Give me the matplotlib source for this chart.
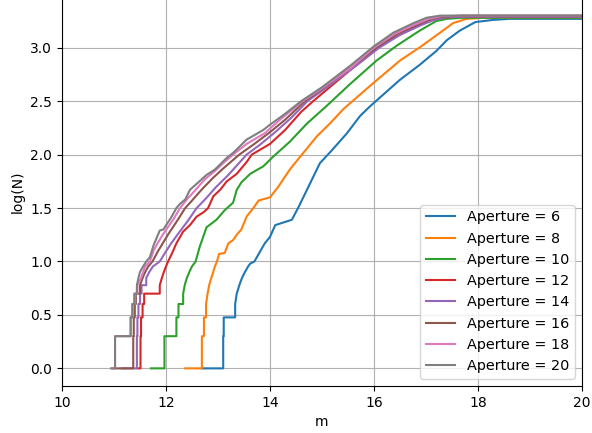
import matplotlib
matplotlib.use("Agg")
import matplotlib.pyplot as plt

# Kumulative Zaehlkurven log(N) gegen Magnitude m, je Apertur
apertures = [6, 8, 10, 12, 14, 16, 18, 20]

m_ap6 = [12.69, 13.10, 13.10, 13.11, 13.11, 13.33, 13.33, 13.36, 13.41, 13.46,
         13.52, 13.58, 13.62, 13.70, 13.77, 13.90, 14.00, 14.10, 14.42, 14.55,
         14.77, 14.96, 15.19, 15.48, 15.73, 15.92, 16.50, 16.88, 17.20, 17.40,
         17.65, 17.95, 18.29, 18.60, 20.0]
logn_ap6 = [0, 0, 0.301, 0.301, 0.477, 0.477, 0.602, 0.699, 0.778, 0.845,
            0.903, 0.954, 0.98, 1.0, 1.06, 1.17, 1.23, 1.34, 1.39, 1.51,
            1.73, 1.92, 2.04, 2.20, 2.36, 2.45, 2.70, 2.84, 2.97, 3.07,
            3.16, 3.24, 3.26, 3.27, 3.27]

m_ap8 = [12.37, 12.69, 12.69, 12.73, 12.73, 12.77, 12.77, 12.80, 12.83, 12.87,
         12.91, 12.94, 12.98, 13.02, 13.13, 13.20, 13.29, 13.36, 13.45, 13.55,
         13.68, 13.78, 14.00, 14.16, 14.38, 14.58, 14.90, 15.15, 15.42, 15.99,
         16.50, 16.90, 17.27, 17.52, 17.78, 18.10, 20.0]
logn_ap8 = [0, 0, 0.301, 0.301, 0.477, 0.477, 0.602, 0.699, 0.778, 0.845,
            0.903, 0.954, 1.0, 1.07, 1.08, 1.17, 1.20, 1.25, 1.30, 1.42,
            1.50, 1.57, 1.60, 1.70, 1.86, 1.98, 2.17, 2.29, 2.43, 2.67,
            2.88, 3.01, 3.14, 3.23, 3.27, 3.28, 3.28]

m_ap10 = [11.71, 11.97, 11.97, 12.20, 12.20, 12.24, 12.24, 12.33, 12.33, 12.36,
          12.40, 12.45, 12.50, 12.57, 12.65, 12.78, 12.97, 13.13, 13.29, 13.36,
          13.45, 13.62, 13.87, 14.06, 14.38, 14.71, 15.10, 15.54, 16.05, 16.44,
          16.88, 17.20, 17.40, 17.70, 20.0]
logn_ap10 = [0, 0, 0.301, 0.301, 0.477, 0.477, 0.602, 0.602, 0.699, 0.778,
             0.845, 0.903, 0.954, 1.0, 1.14, 1.32, 1.39, 1.48, 1.55, 1.67,
             1.74, 1.82, 1.89, 1.98, 2.12, 2.29, 2.46, 2.66, 2.88, 3.02,
             3.16, 3.25, 3.27, 3.28, 3.28]

m_ap12 = [11.45, 11.51, 11.51, 11.52, 11.52, 11.55, 11.55, 11.58, 11.58, 11.88,
          11.88, 11.92, 11.96, 12.00, 12.04, 12.11, 12.20, 12.33, 12.46, 12.59,
          12.72, 12.81, 12.91, 13.04, 13.17, 13.36, 13.55, 13.65, 14.00, 14.29,
          14.60, 14.83, 15.54, 16.18, 16.69, 17.01, 17.27, 17.60, 20.0]
logn_ap12 = [0, 0, 0.301, 0.301, 0.477, 0.477, 0.602, 0.602, 0.699, 0.699,
             0.778, 0.845, 0.903, 0.954, 1.0, 1.07, 1.17, 1.28, 1.34, 1.42,
             1.46, 1.50, 1.61, 1.67, 1.75, 1.82, 1.93, 2.0, 2.10, 2.23,
             2.40, 2.50, 2.79, 3.04, 3.17, 3.24, 3.28, 3.29, 3.29]

m_ap14 = [11.15, 11.44, 11.44, 11.45, 11.45, 11.47, 11.47, 11.50, 11.50, 11.53,
          11.53, 11.62, 11.62, 11.68, 11.75, 11.88, 11.98, 12.10, 12.25, 12.42,
          12.59, 12.75, 12.95, 13.20, 13.55, 13.80, 14.10, 14.40, 14.72, 15.15,
          15.65, 16.10, 16.50, 16.90, 17.15, 17.40, 17.70, 20.0]
logn_ap14 = [0, 0, 0.301, 0.301, 0.477, 0.477, 0.602, 0.602, 0.699, 0.699,
             0.778, 0.778, 0.845, 0.903, 0.954, 1.0, 1.08, 1.17, 1.27, 1.38,
             1.50, 1.58, 1.69, 1.81, 2.0, 2.09, 2.21, 2.34, 2.50, 2.65,
             2.83, 3.0, 3.12, 3.21, 3.26, 3.285, 3.29, 3.29]

m_ap16 = [11.00, 11.37, 11.37, 11.38, 11.38, 11.40, 11.40, 11.42, 11.42, 11.50,
          11.50, 11.55, 11.60, 11.66, 11.74, 11.85, 11.95, 12.05, 12.20, 12.37,
          12.50, 12.70, 12.90, 13.10, 13.41, 13.70, 14.00, 14.30, 14.67, 15.10,
          15.60, 16.04, 16.45, 16.85, 17.10, 17.35, 17.70, 20.0]
logn_ap16 = [0, 0, 0.301, 0.301, 0.477, 0.477, 0.602, 0.602, 0.699, 0.699,
             0.778, 0.845, 0.903, 0.954, 1.0, 1.10, 1.18, 1.26, 1.37, 1.50,
             1.57, 1.68, 1.78, 1.87, 2.0, 2.10, 2.21, 2.33, 2.50, 2.65,
             2.83, 3.0, 3.13, 3.22, 3.27, 3.29, 3.30, 3.30]

m_ap18 = [10.95, 11.02, 11.02, 11.32, 11.32, 11.36, 11.36, 11.40, 11.40, 11.45,
          11.45, 11.52, 11.56, 11.60, 11.69, 11.76, 11.85, 11.95, 12.05, 12.15,
          12.27, 12.40, 12.55, 12.75, 12.95, 13.10, 13.29, 13.55, 13.90, 14.20,
          14.63, 15.00, 15.55, 16.00, 16.40, 16.80, 17.05, 17.30, 17.60, 20.0]
logn_ap18 = [0, 0, 0.301, 0.301, 0.477, 0.477, 0.602, 0.602, 0.699, 0.699,
             0.778, 0.845, 0.903, 0.954, 1.0, 1.10, 1.18, 1.26, 1.33, 1.40,
             1.50, 1.58, 1.66, 1.77, 1.85, 1.92, 2.0, 2.10, 2.20, 2.33,
             2.50, 2.62, 2.81, 3.0, 3.13, 3.22, 3.27, 3.295, 3.30, 3.30]

m_ap20 = [10.95, 11.02, 11.02, 11.32, 11.32, 11.35, 11.35, 11.39, 11.39, 11.44,
          11.44, 11.47, 11.50, 11.56, 11.62, 11.69, 11.76, 11.82, 11.88, 11.95,
          12.03, 12.11, 12.20, 12.27, 12.37, 12.46, 12.62, 12.78, 12.94, 13.17,
          13.30, 13.55, 13.87, 14.00, 14.26, 14.60, 15.00, 15.54, 15.99, 16.37,
          16.76, 17.01, 17.27, 17.60, 20.0]
logn_ap20 = [0, 0, 0.301, 0.301, 0.477, 0.477, 0.602, 0.602, 0.699, 0.699,
             0.778, 0.845, 0.903, 0.954, 1.0, 1.04, 1.15, 1.22, 1.29, 1.30,
             1.36, 1.42, 1.50, 1.54, 1.58, 1.67, 1.74, 1.81, 1.86, 1.97,
             2.02, 2.14, 2.23, 2.28, 2.37, 2.50, 2.63, 2.83, 3.01, 3.14,
             3.23, 3.28, 3.30, 3.30, 3.30]

curves = [
    (m_ap6, logn_ap6), (m_ap8, logn_ap8), (m_ap10, logn_ap10), (m_ap12, logn_ap12),
    (m_ap14, logn_ap14), (m_ap16, logn_ap16), (m_ap18, logn_ap18), (m_ap20, logn_ap20),
]

fig = plt.figure(figsize=(5.92, 4.33), dpi=100)
# Achse oben leicht angeschnitten wie im Original
ax = fig.add_axes([62 / 592, 47 / 433, 520 / 592, 388 / 433])

for ap, (m, logn) in zip(apertures, curves):
    ax.plot(m, logn, linewidth=1.5, label=f"Aperture = {ap}")

ax.set_xlim(10, 20)
ax.set_ylim(-0.165, 3.465)
ax.set_xticks([10, 12, 14, 16, 18, 20])
ax.set_yticks([0.0, 0.5, 1.0, 1.5, 2.0, 2.5, 3.0])
ax.set_xlabel("m")
ax.set_ylabel("log(N)")
ax.grid(True)
ax.legend(loc="lower right", fontsize=10.4)

fig.savefig("out.png", dpi=100)
